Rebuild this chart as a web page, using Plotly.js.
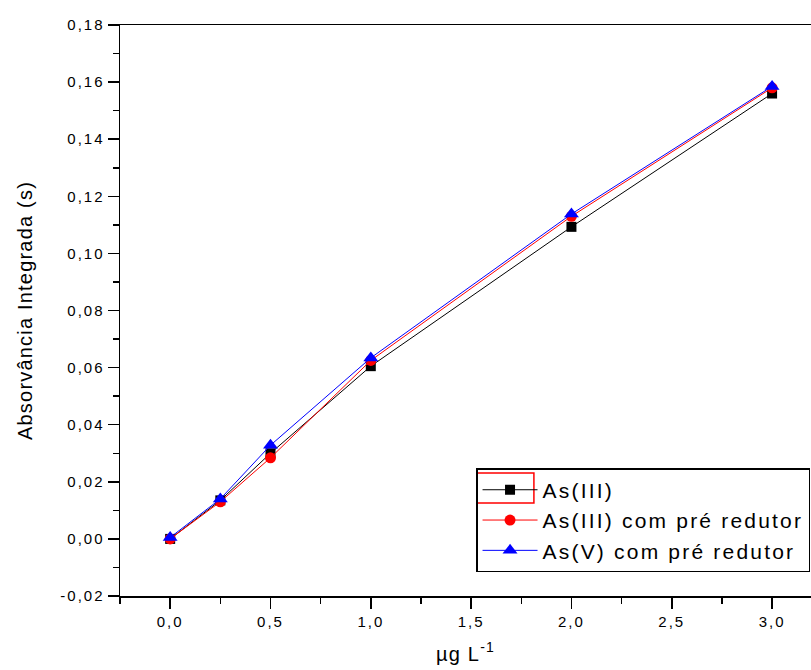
<!DOCTYPE html>
<html>
<head>
<meta charset="utf-8">
<script src="https://cdn.plot.ly/plotly-3.0.1.min.js"></script>
<style>
html,body{margin:0;padding:0;background:#fff}
#chart{width:811px;height:670px}
.xtick text, .ytick text {letter-spacing: 2px;}
.legendtext {letter-spacing: 2.2px;}
.ytitle, .xtitle {letter-spacing: 1.2px;}
</style>
</head>
<body>
<div id="chart"></div>
<script>
const concentrations = [0, 0.25, 0.5, 1.0, 2.0, 3.0];
const asIII = [0.000, 0.0135, 0.030, 0.0605, 0.1093, 0.156];
const asIIIPre = [0.000, 0.013, 0.0284, 0.0625, 0.113, 0.158];
const asVPre = [0.0005, 0.014, 0.0328, 0.0634, 0.1138, 0.1585];
const seriesNames = ['As(III)', 'As(III) com pré redutor', 'As(V) com pré redutor'];
const xTickVals = [0, 0.5, 1.0, 1.5, 2.0, 2.5, 3.0];
const xTickText = ['0,0', '0,5', '1,0', '1,5', '2,0', '2,5', '3,0'];
const yTickVals = [-0.02, 0, 0.02, 0.04, 0.06, 0.08, 0.10, 0.12, 0.14, 0.16, 0.18];
const yTickText = ['-0,02', '0,00', '0,02', '0,04', '0,06', '0,08', '0,10', '0,12', '0,14', '0,16', '0,18'];

const traces = [
  {x: concentrations, y: asIII, name: seriesNames[0], mode: 'lines+markers',
   line: {color: '#000000', width: 1}, marker: {symbol: 'square', size: 10, color: '#000000'}},
  {x: concentrations, y: asIIIPre, name: seriesNames[1], mode: 'lines+markers',
   line: {color: '#ff0000', width: 1}, marker: {symbol: 'circle', size: 11, color: '#ff0000'}},
  {x: concentrations, y: asVPre, name: seriesNames[2], mode: 'lines+markers',
   line: {color: '#0000ff', width: 1}, marker: {symbol: 'triangle-up', size: 13, color: '#0000ff'}}
];

const layout = {
  width: 811, height: 670,
  margin: {l: 120, r: 0, t: 25, b: 74},
  paper_bgcolor: '#ffffff', plot_bgcolor: '#ffffff',
  font: {family: 'Arial, Liberation Sans, sans-serif', color: '#000000'},
  showlegend: true,
  legend: {x: 0.9986, y: 0.224, xanchor: 'right', yanchor: 'top',
    bordercolor: '#000000', borderwidth: 1.5, bgcolor: 'rgba(255,255,255,0)',
    itemwidth: 55,
    font: {size: 21, family: 'Arial, Liberation Sans, sans-serif', color: '#000000'},
    tracegroupgap: 0},
  shapes: [
    {type: 'rect', xref: 'paper', yref: 'paper', x0: 0.5166, x1: 0.599, y0: 0.163, y1: 0.2154,
     line: {color: '#ff0000', width: 1.5}, fillcolor: 'rgba(0,0,0,0)', layer: 'above'}
  ],
  xaxis: {
    range: [-0.25, 3.194], tickmode: 'array', tickvals: xTickVals, ticktext: xTickText,
    ticks: 'outside', ticklen: 11, tickwidth: 1.5, tickcolor: '#000',
    minor: {dtick: 0.25, tick0: 0, ticks: 'outside', ticklen: 6, tickwidth: 1.5, tickcolor: '#000', showgrid: false},
    showline: true, linecolor: '#000', linewidth: 1.5, mirror: true,
    showgrid: false, zeroline: false,
    tickfont: {size: 15, color: '#000'},
    title: {text: 'µg L<sup>-1</sup>', font: {size: 20, color: '#000'}, standoff: 18}
  },
  yaxis: {
    range: [-0.02, 0.18], tickmode: 'array', tickvals: yTickVals, ticktext: yTickText,
    ticks: 'outside', ticklen: 11, tickwidth: 1.5, tickcolor: '#000',
    minor: {dtick: 0.01, tick0: 0, ticks: 'outside', ticklen: 6, tickwidth: 1.5, tickcolor: '#000', showgrid: false},
    showline: true, linecolor: '#000', linewidth: 1.5, mirror: false,
    showgrid: false, zeroline: false,
    tickfont: {size: 15, color: '#000'},
    title: {text: 'Absorvância Integrada (s)', font: {size: 20, color: '#000'}, standoff: 22}
  }
};

Plotly.newPlot('chart', traces, layout, {displayModeBar: false, staticPlot: true});
</script>
</body>
</html>
